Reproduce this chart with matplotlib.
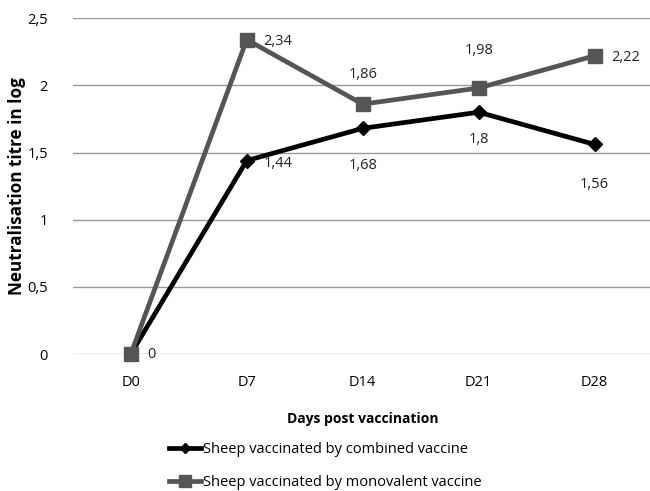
import matplotlib
matplotlib.use("Agg")
import matplotlib.pyplot as plt

days = ["D0", "D7", "D14", "D21", "D28"]
combined = [0, 1.44, 1.68, 1.8, 1.56]
monovalent = [0, 2.34, 1.86, 1.98, 2.22]
yticks = [0, 0.5, 1, 1.5, 2, 2.5]
ytick_labels = ["0", "0,5", "1", "1,5", "2", "2,5"]

plt.rcParams['font.family'] = ['Open Sans', 'DejaVu Sans']

fig = plt.figure(figsize=(6.5, 4.91), dpi=100)
ax = fig.add_axes([0.112, 0.279, 0.892, 0.684])

x = list(range(len(days)))
ax.plot(x, combined, color='black', lw=3.4, marker='D', ms=7,
        label='Sheep vaccinated by combined vaccine', zorder=3)
ax.plot(x, monovalent, color='#555555', lw=3.4, marker='s', ms=10,
        label='Sheep vaccinated by monovalent vaccine', zorder=4)

fmt = lambda v: ("%g" % v).replace('.', ',')
# data labels (offsets in points)
mono_off = [(None, None), (12, -1), (0, 21), (0, 27), (12, -1)]
comb_off = [(12, 0), (12, -2), (0, -27), (0, -20), (0, -29)]
for i, v in enumerate(monovalent):
    dx, dy = mono_off[i]
    if dx is None:
        continue
    ha = 'left' if dx > 0 else 'center'
    ax.annotate(fmt(v), (i, v), xytext=(dx, dy), textcoords='offset points',
                ha=ha, va='center', fontsize=10.5, color='#222222')
for i, v in enumerate(combined):
    dx, dy = comb_off[i]
    ha = 'left' if dx > 0 else 'center'
    ax.annotate(fmt(v), (i, v), xytext=(dx, dy), textcoords='offset points',
                ha=ha, va='center', fontsize=10.5, color='#222222')

ax.set_xlim(-0.5, 4.5)
ax.set_ylim(0, 2.5)
ax.set_yticks(yticks)
ax.set_yticklabels(ytick_labels, fontsize=10.5)
ax.set_xticks(x)
ax.set_xticklabels(days, fontsize=10.5)
ax.tick_params(axis='y', length=0, pad=18)
ax.tick_params(axis='x', length=0, pad=15)
for s in ax.spines.values():
    s.set_visible(False)
ax.grid(axis='y', color='#999999', lw=1)
ax.set_axisbelow(True)
for ln in ax.lines:
    ln.set_clip_on(False)

ax.set_ylabel('Neutralisation titre in log', fontsize=12.3, fontweight='bold')
ax.yaxis.set_label_coords(-0.08, 0.5)
ax.set_xlabel('Days post vaccination', fontsize=10, fontweight='bold', labelpad=16)

fig.legend(loc='lower left', bbox_to_anchor=(0.24, -0.025), frameon=False,
           fontsize=10.5, handlelength=2.2, handletextpad=0.1, labelspacing=1.25,
           markerscale=0.8)

fig.savefig('out.png', dpi=100)
